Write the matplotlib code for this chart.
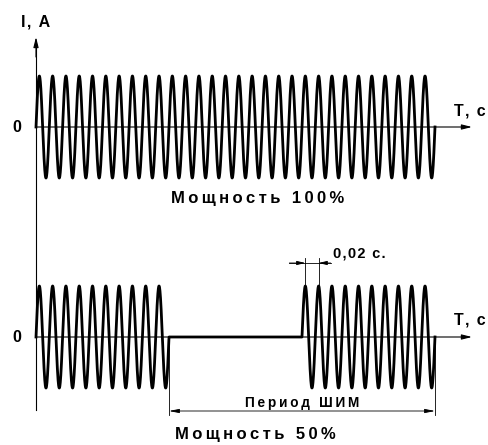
import numpy as np
import matplotlib.pyplot as plt

plt.rcParams['font.family'] = ['Liberation Sans', 'DejaVu Sans']

# схема: синусоида тока, период 0,02 с, 30 периодов
period = 0.02
amplitude = 1.0
n_cycles = 30
# ШИМ 50%: включено / выключено / включено (в периодах)
pwm_blocks = [10, 10, 10]
pwm_states = [1, 0, 1]

t = np.linspace(0, n_cycles * period, 6000)
i_full = amplitude * np.sin(2 * np.pi * t / period)

mask = np.zeros_like(t)
start = 0
for n, s in zip(pwm_blocks, pwm_states):
    end = start + n
    mask[(t >= start * period) & (t <= end * period)] = s
    start = end
i_pwm = i_full * mask


def spaced(s, sp='\u2009'):
    # разрядка текста, как в оригинале
    return sp.join(s)


fig = plt.figure(figsize=(4.89, 4.45), dpi=100)

# пиксельная привязка: t=0 -> x=36px, 1 c -> 665px
px_per_s = 665.0
x0 = -36 / px_per_s
x1 = (489 - 36) / px_per_s
amp_px = 51.0

ax1 = fig.add_axes([0, 215 / 445, 1, 230 / 445])
ax1.set_xlim(x0, x1)
ax1.set_ylim(-(230 - 127) / amp_px, 127 / amp_px)

ax2 = fig.add_axes([0, 0, 1, 215 / 445])
ax2.set_xlim(x0, x1)
ax2.set_ylim(-(445 - 337) / amp_px, (337 - 230) / amp_px)

for ax in (ax1, ax2):
    ax.axis('off')
    ax.patch.set_visible(False)

wave_kw = dict(color='black', lw=2.0, solid_joinstyle='round')
axis_kw = dict(arrowstyle='-|>,head_length=0.6,head_width=0.15', color='black', lw=0.8,
               shrinkA=0, shrinkB=0)
x_end = (472 - 36) / px_per_s
lbl_kw = dict(ha='center', va='center', fontsize=11.5, fontweight='bold')

# общая ось тока: от стрелки вверху до низа нижнего графика
ax1.plot([0, 0], [80 / amp_px, -(410 - 127) / amp_px], color='black', lw=0.8,
         clip_on=False, zorder=5)
ax1.annotate('', xy=(0, 90 / amp_px), xytext=(0, 70 / amp_px), arrowprops=axis_kw)

# верхний график
ax1.plot(t, i_full, **wave_kw)
ax1.annotate('', xy=(x_end, 0), xytext=(0, 0), arrowprops=axis_kw)
ax1.text(-0.029, 0, '0', **lbl_kw)
ax1.text(0.0, 105 / amp_px, spaced('I, A', '\u200a'), **lbl_kw)
ax1.text((470 - 36) / px_per_s, 16 / amp_px, spaced('T, c', '\u200a'), **lbl_kw)
ax1.text((258 - 36) / px_per_s, -71 / amp_px, spaced('Мощность 100%'), ha='center', va='center',
         fontsize=12, fontweight='bold')

# нижний график
ax2.plot(t, i_pwm, **wave_kw)
ax2.annotate('', xy=(x_end, 0), xytext=(0, 0), arrowprops=axis_kw)
ax2.text(-0.029, 0, '0', **lbl_kw)
ax2.text((470 - 36) / px_per_s, 17 / amp_px, spaced('T, c', '\u200a'), **lbl_kw)
ax2.text((255 - 36) / px_per_s, -98 / amp_px, spaced('Мощность 50%'), ha='center', va='center',
         fontsize=12, fontweight='bold')

# размер 0,02 с
t_on2 = (pwm_blocks[0] + pwm_blocks[1]) * period
p1 = t_on2 + period / 4
p2 = p1 + period
dim_y = 74 / amp_px
for p in (p1, p2):
    ax2.plot([p, p], [amplitude, dim_y + 5 / amp_px], color='black', lw=0.6)
ax2.plot([p1 - 16 / px_per_s, p2 + 12 / px_per_s], [dim_y, dim_y], color='black', lw=0.6)
dim_kw = dict(arrowstyle='-|>,head_length=0.5,head_width=0.12', color='black', lw=0.6,
              shrinkA=0, shrinkB=0)
ax2.annotate('', xy=(p1, dim_y), xytext=(p1 - 16 / px_per_s, dim_y), arrowprops=dim_kw)
ax2.annotate('', xy=(p2, dim_y), xytext=(p2 + 12 / px_per_s, dim_y), arrowprops=dim_kw)
ax2.text((333 - 36) / px_per_s, 83 / amp_px, spaced('0,02 с.', '\u200a'), ha='left', va='center',
         fontsize=10.5, fontweight='bold')

# период ШИМ
t_off = pwm_blocks[0] * period
t_end = n_cycles * period
per_y = -74 / amp_px
for p in (t_off, t_end):
    ax2.plot([p, p], [0, per_y - 4 / amp_px], color='black', lw=0.6)
ax2.annotate('', xy=(t_off, per_y), xytext=(t_end, per_y),
             arrowprops=dict(arrowstyle='<|-|>,head_length=0.6,head_width=0.12', color='black', lw=0.6,
                             shrinkA=0, shrinkB=0))
ax2.text((t_off + t_end) / 2, -66 / amp_px, spaced('Период ШИМ'), ha='center', va='center',
         fontsize=9.8, fontweight='bold')

fig.savefig('out.png', dpi=100)
